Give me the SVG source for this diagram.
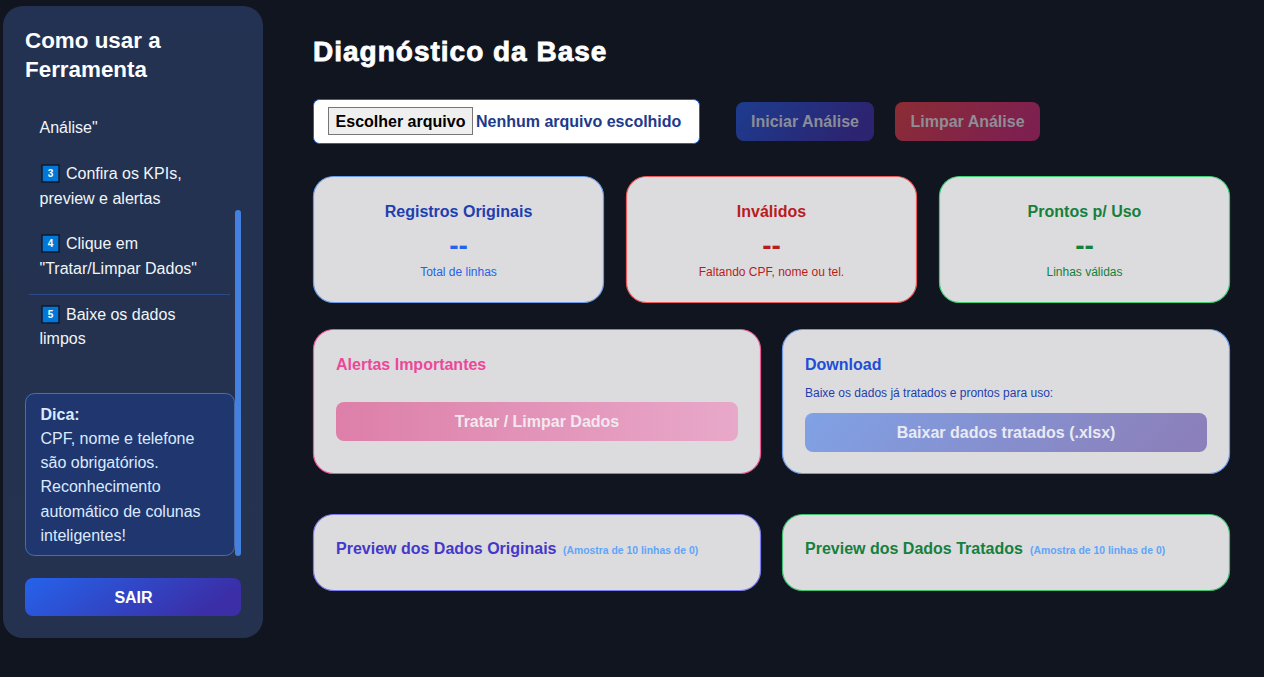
<svg xmlns="http://www.w3.org/2000/svg" width="1264" height="677" viewBox="0 0 1264 677">
<style>
text{font-family:"Liberation Sans",Arial,sans-serif}
.b{font-weight:700}
.m{text-anchor:middle}
.side{fill:#f1f5f9;font-size:16px}
.dica{fill:#dbeafe;font-size:16px}
.card{fill:#dcdcde;stroke-width:1.2}
.kt{font-size:16px;font-weight:700;text-anchor:middle}
.kv{font-size:28px;font-weight:700;text-anchor:middle}
.ks{font-size:12px;text-anchor:middle}
.h{font-size:16px;font-weight:700}
.btn{font-size:16px;font-weight:700;text-anchor:middle}
.sm{font-size:10.4px;font-weight:700;fill:#60a5fa}
.key{fill:#0078d7;stroke:#10182f;stroke-width:1.5}
.kd{fill:#fff;font-size:10px;font-weight:700;text-anchor:middle}
</style>
<defs>
<linearGradient id="gs" x1="0" y1="0" x2="0" y2="1"><stop offset="0" stop-color="#233252"/><stop offset="1" stop-color="#25324f"/></linearGradient>
<linearGradient id="g1" x1="0" y1="0" x2="1" y2="0.25"><stop offset="0" stop-color="#2563eb"/><stop offset="1" stop-color="#3b2ea6"/></linearGradient>
<linearGradient id="g2" x1="0" y1="0" x2="1" y2="0.25"><stop offset="0" stop-color="#1d3c8f"/><stop offset="1" stop-color="#2c2470"/></linearGradient>
<linearGradient id="g3" x1="0" y1="0" x2="1" y2="0.25"><stop offset="0" stop-color="#8c2d34"/><stop offset="1" stop-color="#7d2050"/></linearGradient>
<linearGradient id="g4" x1="0" y1="0" x2="1" y2="0"><stop offset="0" stop-color="#dd7fa9"/><stop offset="1" stop-color="#e8a8c9"/></linearGradient>
<linearGradient id="g5" x1="0" y1="0" x2="1" y2="0.1"><stop offset="0" stop-color="#80a2e6"/><stop offset="1" stop-color="#8b80bb"/></linearGradient>
</defs>
<rect width="1264" height="677" fill="#111520"/>
<g id="sidebar">
<rect x="3" y="6" width="260" height="632" rx="20" fill="url(#gs)"/>
<text x="25" y="48" class="b" font-size="22.4" fill="#fff">Como usar a</text>
<text x="25" y="77" class="b" font-size="22.4" fill="#fff">Ferramenta</text>
<text x="39.500" y="133" class="side">Análise"</text>
<rect x="42" y="165" width="17" height="17" class="key"/><text x="50.500" y="177" class="kd">3</text>
<text x="66" y="179" class="side">Confira os KPIs,</text>
<text x="39.500" y="204" class="side">preview e alertas</text>
<rect x="42" y="235" width="17" height="17" class="key"/><text x="50.500" y="247" class="kd">4</text>
<text x="66" y="249" class="side">Clique em</text>
<text x="39.500" y="274" class="side">"Tratar/Limpar Dados"</text>
<line x1="29" y1="294.500" x2="230" y2="294.500" stroke="#2a4a8a"/>
<rect x="42" y="306" width="17" height="17" class="key"/><text x="50.500" y="318" class="kd">5</text>
<text x="66" y="320" class="side">Baixe os dados</text>
<text x="39.500" y="344" class="side">limpos</text>
<rect x="235" y="210" width="6" height="346" rx="3" fill="#4480e0"/>
<rect x="25.500" y="393.500" width="209" height="162" rx="9" fill="#1f366f" stroke="#4a6ea8"/>
<text x="40.500" y="420" class="dica b">Dica:</text>
<text x="40.500" y="444" class="dica">CPF, nome e telefone</text>
<text x="40.500" y="468" class="dica">são obrigatórios.</text>
<text x="40.500" y="492" class="dica">Reconhecimento</text>
<text x="40.500" y="517" class="dica">automático de colunas</text>
<text x="40.500" y="541" class="dica">inteligentes!</text>
</g>
<g id="sair"><rect x="25" y="578" width="216" height="38" rx="8" fill="url(#g1)"/><text x="133.500" y="603" class="btn" fill="#fff">SAIR</text></g>
<g id="title"><text x="313" y="61" class="b" font-size="28" fill="#fff" stroke="#fff" stroke-width="0.8" letter-spacing="1">Diagnóstico da Base</text></g>
<g id="file">
<rect x="313.500" y="99.500" width="386" height="44" rx="6" fill="#fff" stroke="#2a5fc4"/>
<rect x="328.500" y="107.500" width="144" height="27" fill="#efefef" stroke="#767676"/>
<text x="400.500" y="127" class="btn" fill="#000">Escolher arquivo</text>
<text x="476" y="127" class="b" font-size="16" fill="#1e3a8a">Nenhum arquivo escolhido</text>
</g>
<g id="iniciar"><rect x="736" y="102" width="138" height="39" rx="8" fill="url(#g2)"/><text x="805" y="127" class="btn" fill="#8a8d99">Iniciar Análise</text></g>
<g id="limpar"><rect x="895" y="102" width="145" height="39" rx="8" fill="url(#g3)"/><text x="967.500" y="127" class="btn" fill="#8f8d95">Limpar Análise</text></g>
<g id="kpi1"><rect x="313.500" y="176.500" width="290" height="126" rx="20" class="card" stroke="#6b9be8"/><text x="458.500" y="217" class="kt" fill="#1e40af">Registros Originais</text><text x="458.500" y="255" class="kv" fill="#2563eb">--</text><text x="458.500" y="276" class="ks" fill="#2563eb">Total de linhas</text></g>
<g id="kpi2"><rect x="626.500" y="176.500" width="290" height="126" rx="20" class="card" stroke="#ef5a5a"/><text x="771.500" y="217" class="kt" fill="#b91c1c">Inválidos</text><text x="771.500" y="255" class="kv" fill="#b91c1c">--</text><text x="771.500" y="276" class="ks" fill="#b91c1c">Faltando CPF, nome ou tel.</text></g>
<g id="kpi3"><rect x="939.500" y="176.500" width="290" height="126" rx="20" class="card" stroke="#3fcf75"/><text x="1084.500" y="217" class="kt" fill="#15803d">Prontos p/ Uso</text><text x="1084.500" y="255" class="kv" fill="#15803d">--</text><text x="1084.500" y="276" class="ks" fill="#15803d">Linhas válidas</text></g>
<g id="alertas"><rect x="313.500" y="329.500" width="447" height="144" rx="20" class="card" stroke="#ec5a95"/><text x="336" y="370" class="h" fill="#ec4899">Alertas Importantes</text><rect x="336" y="402" width="402" height="39" rx="8" fill="url(#g4)"/><text x="537" y="427" class="btn" fill="#f3e8ef">Tratar / Limpar Dados</text></g>
<g id="download"><rect x="782.500" y="329.500" width="447" height="144" rx="20" class="card" stroke="#6b9be8"/><text x="805" y="370" class="h" fill="#1d4ed8">Download</text><text x="805" y="397" font-size="12" fill="#1e40af">Baixe os dados já tratados e prontos para uso:</text><rect x="805" y="413" width="402" height="39" rx="8" fill="url(#g5)"/><text x="1006" y="438" class="btn" fill="#e8eaf4">Baixar dados tratados (.xlsx)</text></g>
<g id="preview1"><rect x="313.500" y="514.500" width="447" height="76" rx="20" class="card" stroke="#7c7cf0"/><text x="336" y="554" class="h" fill="#4338ca">Preview dos Dados Originais</text><text x="563" y="554" class="sm">(Amostra de 10 linhas de 0)</text></g>
<g id="preview2"><rect x="782.500" y="514.500" width="447" height="76" rx="20" class="card" stroke="#3fbf70"/><text x="805" y="554" class="h" fill="#15803d">Preview dos Dados Tratados</text><text x="1030" y="554" class="sm">(Amostra de 10 linhas de 0)</text></g>
<g id="connectors"></g>
</svg>
